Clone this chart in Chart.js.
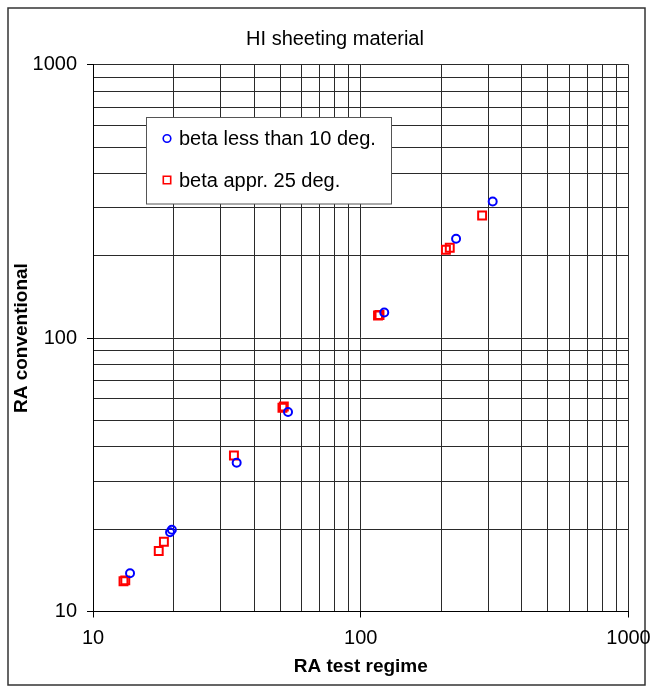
<!DOCTYPE html>
<html>
<head>
<meta charset="utf-8">
<script src="https://cdn.jsdelivr.net/npm/chart.js@4.4.1/dist/chart.umd.min.js"></script>
<style>
  html, body { margin: 0; padding: 0; background: #fff; }
</style>
</head>
<body>
<canvas id="grafica" width="651" height="687"></canvas>
<script>
const tituloGrafica = 'HI sheeting material'
const tituloX = 'RA test regime'
const tituloY = 'RA conventional'

const serieAzulNombre = 'beta less than 10 deg.'
const serieAzulX = [13.75, 19.4, 19.7, 34.4, 53.5, 122.4, 227, 311]
const serieAzulY = [13.8, 19.5, 19.9, 35.0, 53.7, 124, 231, 316]

const serieRojaNombre = 'beta appr. 25 deg.'
const serieRojaX = [13.0, 13.2, 17.6, 18.4, 33.6, 51.0, 51.6, 116, 117.5, 208, 215, 284]
const serieRojaY = [12.9, 13.0, 16.65, 18.0, 37.2, 55.6, 56.2, 121, 121.5, 210.5, 214, 281]

const valoresEje = [10, 20, 30, 40, 50, 60, 70, 80, 90, 100, 200, 300, 400, 500, 600, 700, 800, 900, 1000]
const etiquetasEje = [10, 100, 1000]

const fuente = 'Arial, "Liberation Sans", sans-serif'

const generarPuntos = (xs, ys) => {
   return xs.map((x, i) => ({ x: x, y: ys[i] }))
}

const fijarTicks = (scale) => {
   scale.ticks = valoresEje.map(v => ({ value: v, major: etiquetasEje.includes(v) }))
}

const colorMarca = (ctx) => {
   return ctx.tick && etiquetasEje.includes(ctx.tick.value) ? '#000' : 'rgba(0,0,0,0)'
}

const marco = {
   id: 'marco',
   beforeDraw(chart) {
      const c = chart.ctx
      c.save()
      c.fillStyle = '#fff'
      c.fillRect(0, 0, chart.width, chart.height)
      c.strokeStyle = '#333'
      c.lineWidth = 1.5
      c.strokeRect(8, 8, 637, 677)
      c.font = '20px ' + fuente
      c.fillStyle = '#000'
      c.textAlign = 'center'
      c.textBaseline = 'middle'
      c.fillText(tituloGrafica, 335, 39)
      c.restore()
   }
}

const leyendaInterna = {
   id: 'leyendaInterna',
   afterDraw(chart) {
      const c = chart.ctx
      c.save()
      c.fillStyle = '#fff'
      c.fillRect(146.5, 117.5, 245, 86.5)
      c.strokeStyle = '#555'
      c.lineWidth = 1
      c.strokeRect(146.5, 117.5, 245, 86.5)
      c.font = '20px ' + fuente
      c.textBaseline = 'middle'
      c.textAlign = 'left'
      const filas = [138.5, 180]
      chart.data.datasets.forEach((ds, i) => {
         const y = filas[i]
         c.strokeStyle = ds.borderColor
         c.lineWidth = 1.6
         c.beginPath()
         if (ds.pointStyle === 'circle') {
            c.arc(167, y, 3.8, 0, Math.PI * 2)
         } else {
            c.rect(163.3, y - 3.7, 7.4, 7.4)
         }
         c.stroke()
         c.fillStyle = '#000'
         c.fillText(ds.label, 179, y + 1)
      })
      c.restore()
   }
}

const ctx = document.getElementById('grafica').getContext('2d')

new Chart(ctx, {
   type: 'scatter',
   data: {
      datasets: [{
         label: serieAzulNombre,
         data: generarPuntos(serieAzulX, serieAzulY),
         pointStyle: 'circle',
         pointRadius: 4,
         pointBorderWidth: 2,
         borderColor: '#0000ff',
         backgroundColor: 'rgba(0,0,0,0)',
         pointBackgroundColor: 'rgba(0,0,0,0)'
      }, {
         label: serieRojaNombre,
         data: generarPuntos(serieRojaX, serieRojaY),
         pointStyle: 'rect',
         pointRadius: 5.6,
         pointBorderWidth: 2,
         borderColor: '#ff0000',
         backgroundColor: 'rgba(0,0,0,0)',
         pointBackgroundColor: 'rgba(0,0,0,0)'
      }]
   },
   options: {
      responsive: false,
      animation: false,
      devicePixelRatio: 1,
      layout: { padding: { left: 0, right: 22.5, top: 64.7, bottom: 0 } },
      plugins: {
         legend: { display: false },
         tooltip: { enabled: false },
         title: { display: false }
      },
      scales: {
         x: {
            type: 'logarithmic',
            min: 10,
            max: 1000,
            afterBuildTicks: fijarTicks,
            afterFit: (s) => { s.height = 75.5; s.paddingLeft = 0; s.paddingRight = 0 },
            grid: { color: '#2a2a2a', lineWidth: 1, tickLength: 6, tickColor: colorMarca },
            border: { display: true, color: '#000', width: 1 },
            ticks: {
               autoSkip: false,
               maxRotation: 0,
               padding: 9,
               color: '#000',
               font: { family: fuente, size: 20 },
               callback: (v) => etiquetasEje.includes(v) ? String(v) : ''
            },
            title: {
               display: true,
               text: tituloX,
               color: '#000',
               font: { family: fuente, size: 19, weight: 'bold' },
               padding: { top: 0, bottom: 8.6 }
            }
         },
         y: {
            type: 'logarithmic',
            min: 10,
            max: 1000,
            afterBuildTicks: fijarTicks,
            afterFit: (s) => { s.width = 93; s.paddingTop = 0; s.paddingBottom = 0 },
            grid: { color: '#2a2a2a', lineWidth: 1, tickLength: 6, tickColor: colorMarca },
            border: { display: true, color: '#000', width: 1 },
            ticks: {
               autoSkip: false,
               padding: 10,
               color: '#000',
               font: { family: fuente, size: 20 },
               callback: (v) => etiquetasEje.includes(v) ? String(v) : ''
            },
            title: {
               display: true,
               text: tituloY,
               color: '#000',
               font: { family: fuente, size: 19, weight: 'bold' },
               padding: { top: 10.6, bottom: 0 }
            }
         }
      }
   },
   plugins: [marco, leyendaInterna]
})
</script>
</body>
</html>
